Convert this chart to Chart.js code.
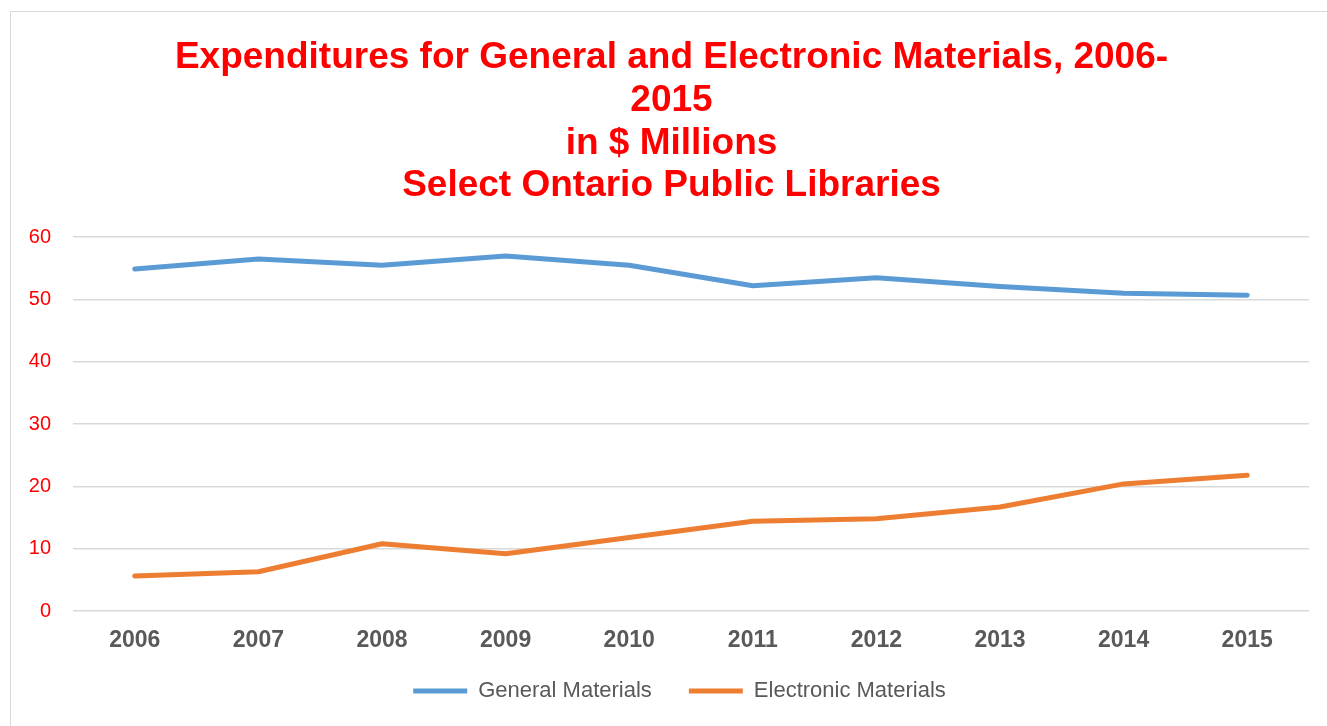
<!DOCTYPE html>
<html>
<head>
<meta charset="utf-8">
<script src="https://cdn.jsdelivr.net/npm/chart.js@4"></script>
<style>
  html, body { margin: 0; padding: 0; background: #fff; overflow: hidden; width: 1327px; height: 726px; }
  #frame { position: absolute; left: 10px; top: 11px; width: 1340px; height: 760px; border: 1px solid #d9d9d9; box-sizing: border-box; }
  #wrap { position: absolute; left: 10px; top: 11px; width: 1324px; height: 741px; }
</style>
</head>
<body>
<div id="frame"></div>
<div id="wrap"><canvas id="c"></canvas></div>
<script>
const years = ["2006","2007","2008","2009","2010","2011","2012","2013","2014","2015"];
const generalMaterials = [54.9, 56.5, 55.5, 57.0, 55.5, 52.2, 53.5, 52.1, 51.0, 50.7];
const electronicMaterials = [5.6, 6.3, 10.8, 9.2, 11.8, 14.4, 14.8, 16.7, 20.4, 21.8];
const seriesNames = ["General Materials", "Electronic Materials"];
const titleLines = ["Expenditures for General and Electronic Materials, 2006-", "2015", "in $ Millions", "Select Ontario Public Libraries"];
const yTicks = [0, 10, 20, 30, 40, 50, 60];

const boxShift = {
  id: 'boxShift',
  afterLayout(chart) {
    const lg = chart.legend;
    if (lg) { lg.left += 20; lg.right += 20; lg.top -= 26; lg.bottom -= 26; }
    const tb = chart.titleBlock;
    if (tb) { tb.left += 12; tb.right += 12; }
  }
};

const ctx = document.getElementById('c');
new Chart(ctx, {
  type: 'line',
  data: {
    labels: years,
    datasets: [
      { label: seriesNames[0], data: generalMaterials, borderColor: '#5B9BD5', backgroundColor: '#5B9BD5',
        borderWidth: 5, pointRadius: 0, borderCapStyle: 'round', borderJoinStyle: 'round', tension: 0 },
      { label: seriesNames[1], data: electronicMaterials, borderColor: '#ED7D31', backgroundColor: '#ED7D31',
        borderWidth: 5, pointRadius: 0, borderCapStyle: 'round', borderJoinStyle: 'round', tension: 0 }
    ]
  },
  options: {
    responsive: true,
    maintainAspectRatio: false,
    animation: false,
    layout: { padding: { top: 0, right: 25, bottom: 14, left: 0 } },
    plugins: {
      title: {
        display: true,
        text: titleLines,
        color: '#FF0000',
        font: { family: 'Liberation Sans, Arial, sans-serif', size: 37, weight: 'bold', lineHeight: 1.15 },
        padding: { top: 26, bottom: 30 }
      },
      legend: {
        position: 'bottom',
        labels: {
          usePointStyle: true,
          pointStyle: 'line',
          pointStyleWidth: 54,
          color: '#595959',
          font: { family: 'Liberation Sans, Arial, sans-serif', size: 22 },
          padding: 37
        }
      },
      tooltip: { enabled: false }
    },
    scales: {
      x: {
        offset: true,
        grid: { display: false, drawTicks: false },
        border: { display: false },
        ticks: { color: '#595959', font: { family: 'Liberation Sans, Arial, sans-serif', size: 23, weight: 'bold' }, padding: 16 },
        afterFit(scale) { scale.height = 58; }
      },
      y: {
        min: 0, max: 60,
        afterBuildTicks(scale) { scale.ticks = yTicks.map(v => ({ value: v })); },
        grid: { color: '#d9d9d9', lineWidth: 1.5, drawTicks: false },
        border: { display: false },
        ticks: { color: '#FF0000', font: { family: 'Liberation Sans, Arial, sans-serif', size: 20 }, padding: 22 },
        afterFit(scale) { scale.width = 63; }
      }
    }
  },
  plugins: [boxShift]
});
</script>
</body>
</html>
